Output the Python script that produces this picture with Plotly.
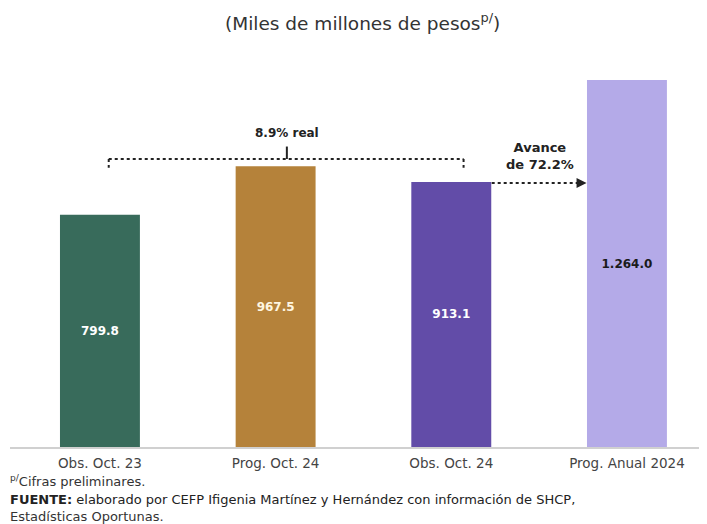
import plotly.graph_objects as go

categories = ["Obs. Oct. 23", "Prog. Oct. 24", "Obs. Oct. 24", "Prog. Anual 2024"]
values = [799.8, 967.5, 913.1, 1264.0]
value_labels = ["799.8", "967.5", "913.1", "1.264.0"]
bar_colors = ["#386B5B", "#B5823A", "#624CA8", "#B4AAE8"]
label_colors = ["white", "#FFF6E0", "white", "#1a1a1a"]
growth_label = "8.9% real"
progress_label = "Avance<br>de 72.2%"

FONT = "DejaVu Sans, Verdana, sans-serif"
W, H = 707, 524
OFF = 8  # page body margin
L, R, T, B = 2, 0, 52, 85
pw, ph = W - L - R, H - T - B

def px(xp):
    return (xp - OFF - L) / pw

def py(yp):
    return (H - B - (yp - OFF)) / ph

fig = go.Figure()
fig.add_trace(go.Bar(
    x=[0, 1, 2, 3], y=values, width=0.455,
    marker=dict(color=bar_colors, line=dict(width=0)),
    text=value_labels, textposition="inside", insidetextanchor="middle",
    textfont=dict(family=FONT, size=12, color=label_colors, weight="bold"),
    hoverinfo="skip",
))

ymax = ph / 0.2903
xs = -0.512
xe = xs + pw / 175.67

shapes = []
dot = dict(color="#222", width=2, dash="dot")
# bracket
shapes.append(dict(type="line", xref="x", yref="y", x0=0.05, x1=2.07, y0=992, y1=992, line=dot))
shapes.append(dict(type="line", xref="x", yref="y", x0=0.05, x1=0.05, y0=992, y1=962, line=dot))
shapes.append(dict(type="line", xref="x", yref="y", x0=2.07, x1=2.07, y0=992, y1=962, line=dot))
shapes.append(dict(type="line", xref="x", yref="y", x0=1.064, x1=1.064, y0=992, y1=1035, line=dict(color="#222", width=2)))
# arrow line
shapes.append(dict(type="line", xref="x", yref="y", x0=2.23, x1=2.74, y0=909, y1=909, line=dot))

annotations = [
    dict(x=1.064, y=1082, xref="x", yref="y", text="<b>" + growth_label + "</b>", showarrow=False,
         font=dict(family=FONT, size=12, color="#222")),
    dict(x=2.505, y=1002, xref="x", yref="y", text="<b>" + progress_label + "</b>", showarrow=False,
         font=dict(family=FONT, size=13, color="#222")),
    dict(x=2.77, y=909, xref="x", yref="y", ax=2.72, ay=909, axref="x", ayref="y", text="",
         showarrow=True, arrowhead=2, arrowsize=1, arrowwidth=2, arrowcolor="#222"),
    dict(x=px(363), y=py(22), xref="paper", yref="paper", xanchor="center", yanchor="middle",
         text="(Miles de millones de pesos<sup>p/</sup>)",
         showarrow=False, font=dict(family=FONT, size=18.5, color="#333")),
    dict(x=px(8), y=py(481), xref="paper", yref="paper", xanchor="left", yanchor="middle",
         text="<sup>p/</sup>Cifras preliminares.", showarrow=False,
         font=dict(family=FONT, size=13, color="#333")),
    dict(x=px(8), y=py(499), xref="paper", yref="paper", xanchor="left", yanchor="middle",
         text="<b>FUENTE:</b> elaborado por CEFP Ifigenia Martínez y Hernández con información de SHCP,",
         showarrow=False, font=dict(family=FONT, size=13, color="#222")),
    dict(x=px(8), y=py(516), xref="paper", yref="paper", xanchor="left", yanchor="middle",
         text="Estadísticas Oportunas.", showarrow=False,
         font=dict(family=FONT, size=13, color="#333")),
]

fig.update_layout(
    width=W, height=H, margin=dict(l=L, r=R, t=T, b=B),
    paper_bgcolor="white", plot_bgcolor="white",
    showlegend=False, shapes=shapes, annotations=annotations,
    xaxis=dict(range=[xs, xe], tickvals=[0, 1, 2, 3], ticktext=categories,
               showline=True, linecolor="#d0d0d0", linewidth=2, showgrid=False,
               zeroline=False, ticks="", automargin=False, ticklabelstandoff=3,
               tickfont=dict(family=FONT, size=13.5, color="#444")),
    yaxis=dict(range=[0, ymax], visible=False, showgrid=False, zeroline=False),
    font=dict(family=FONT),
)

fig.write_html("out.html")
